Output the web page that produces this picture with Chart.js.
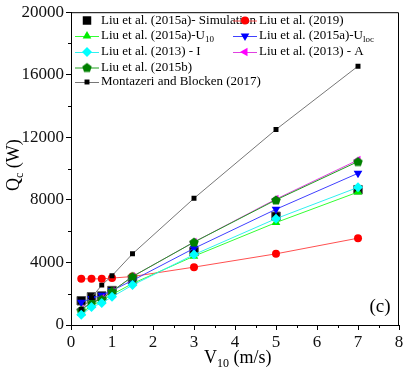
<!DOCTYPE html>
<html>
<head>
<meta charset="utf-8">
<script src="https://cdn.jsdelivr.net/npm/chart.js@4"></script>
<style>
  html, body { margin: 0; padding: 0; background: #fff; }
  #wrap { width: 406px; height: 376px; }
</style>
</head>
<body>
<div id="wrap"><canvas id="qcChart" width="406" height="376"></canvas></div>
<script>
// wind speed V10 (m/s)
const windSpeed = [0.25, 0.5, 0.75, 1, 1.5, 3, 5, 7];

// convective heat Qc (W) for each correlation
const simulation = [1550, 1800, 1850, 2200, 2900, 4700, 6950, 8650];
const liu2019 = [2950, 2950, 2950, 3000, 3100, 3700, 4550, 5550];
const liu2015aU10 = [750, 1250, 1550, 1950, 2650, 4400, 6550, 8500];
const liu2015aUloc = [1450, 1700, 1900, 2200, 2850, 4900, 7400, 9700];
const liu2013I = [650, 1150, 1400, 1800, 2550, 4500, 6800, 8800];
const liu2013A = [1000, 1450, 1700, 2150, 3100, 5300, 8050, 10550];
const liu2015b = [950, 1450, 1650, 2150, 3100, 5300, 8000, 10450];
const montazeri = [1000, 1750, 2550, 3150, 4550, 8100, 12500, 16550];

const xTicks = [0, 1, 2, 3, 4, 5, 6, 7, 8];
const yTicks = [0, 4000, 8000, 12000, 16000, 20000];

const serif = "'Liberation Serif', 'DejaVu Serif', serif";

// pentagon marker for Liu et al. (2015b)
function makePentagon(color, r) {
    const c = document.createElement('canvas');
    c.width = c.height = r * 2 + 2;
    const g = c.getContext('2d');
    g.fillStyle = color;
    g.beginPath();
    for (let i = 0; i < 5; i++) {
        const a = -Math.PI / 2 + i * 2 * Math.PI / 5;
        const px = r + 1 + r * Math.cos(a);
        const py = r + 1.5 + r * Math.sin(a);
        if (i === 0) g.moveTo(px, py); else g.lineTo(px, py);
    }
    g.closePath();
    g.fill();
    return c;
}
const pentagon = makePentagon('#008000', 5);

function pts(ys) {
    return windSpeed.map((x, i) => ({ x: x, y: ys[i] }));
}

const series = [
    { label: 'Liu et al. (2015a)- Simulation', data: simulation, color: '#000000', line: null, style: 'rect', radius: 6, rot: 0, order: 9 },
    { label: 'Liu et al. (2019)', data: liu2019, color: '#ff0000', line: '#ff5050', style: 'circle', radius: 4, rot: 0, order: 8 },
    { label: 'Liu et al. (2015a)-U', sub: '10', data: liu2015aU10, color: '#00ee00', line: '#33ff33', style: 'triangle', radius: 5, rot: 0, order: 7 },
    { label: 'Liu et al. (2015a)-U', sub: 'loc', data: liu2015aUloc, color: '#0000ff', line: '#4040ff', style: 'triangle', radius: 5, rot: 180, order: 6 },
    { label: 'Liu et al. (2013) - I', data: liu2013I, color: '#00ffff', line: '#30f0f0', style: 'rectRot', radius: 5, rot: 0, order: 2 },
    { label: 'Liu et al. (2013) - A', data: liu2013A, color: '#ff00ff', line: '#e040e0', style: 'triangle', radius: 5, rot: -90, order: 5 },
    { label: 'Liu et al. (2015b)', data: liu2015b, color: '#008000', line: '#20a020', style: pentagon, radius: 5, rot: 0, order: 4 },
    { label: 'Montazeri and Blocken (2017)', data: montazeri, color: '#000000', line: '#777777', style: 'rect', radius: 3.5, rot: 0, order: 3 }
];

const datasets = series.map(s => ({
    label: s.label,
    data: pts(s.data),
    showLine: s.line !== null,
    borderColor: s.line || s.color,
    borderWidth: 1,
    backgroundColor: s.color,
    pointBackgroundColor: s.color,
    pointBorderColor: s.color === '#000000' && s.radius > 5 ? '#555555' : s.color,
    pointBorderWidth: s.radius > 5 ? 1 : 0,
    pointStyle: s.style,
    pointRadius: s.radius,
    pointRotation: s.rot,
    order: s.order
}));

// legend, axis titles, minor ticks, frame
const decorations = {
    id: 'decorations',
    afterDraw(chart) {
        const ctx = chart.ctx;
        const a = chart.chartArea;
        const xs = chart.scales.x;
        const ys = chart.scales.y;
        ctx.save();

        // frame top and right
        ctx.strokeStyle = '#000';
        ctx.lineWidth = 1;
        ctx.beginPath();
        ctx.moveTo(a.left, a.top + 0.5);
        ctx.lineTo(a.right - 0.5, a.top + 0.5);
        ctx.lineTo(a.right - 0.5, a.bottom);
        ctx.stroke();

        // minor ticks
        ctx.beginPath();
        for (let v = 0.5; v < 8; v += 1) {
            const px = Math.round(xs.getPixelForValue(v)) + 0.5;
            ctx.moveTo(px, a.bottom);
            ctx.lineTo(px, a.bottom + 3);
        }
        for (let v = 2000; v < 20000; v += 4000) {
            const py = Math.round(ys.getPixelForValue(v)) + 0.5;
            ctx.moveTo(a.left, py);
            ctx.lineTo(a.left - 3, py);
        }
        ctx.stroke();

        // legend
        const cols = [87, 245];
        const rows = [20.5, 36, 52, 67.5, 82];
        ctx.textBaseline = 'middle';
        series.forEach((s, i) => {
            let cx, cy;
            if (i < 6) { cx = cols[i % 2]; cy = rows[Math.floor(i / 2)]; }
            else { cx = cols[0]; cy = rows[i - 3]; }
            if (s.line) {
                ctx.strokeStyle = s.line;
                ctx.beginPath();
                ctx.moveTo(cx - 12, cy + 0.5);
                ctx.lineTo(cx + 12, cy + 0.5);
                ctx.stroke();
            }
            ctx.fillStyle = s.color;
            ctx.strokeStyle = s.color;
            Chart.helpers.drawPoint(ctx, {
                pointStyle: s.style, rotation: s.rot,
                radius: s.radius, borderWidth: 0
            }, cx, cy);
            ctx.fillStyle = '#000';
            ctx.font = '13px ' + serif;
            const tx = cx + 14;
            ctx.fillText(s.label, tx, cy);
            if (s.sub) {
                const w = ctx.measureText(s.label).width;
                ctx.font = '9px ' + serif;
                ctx.fillText(s.sub, tx + w, cy + 4);
            }
        });

        // panel label
        ctx.font = '19px ' + serif;
        ctx.textAlign = 'center';
        ctx.fillText('(c)', 380, 307);

        // x axis title
        ctx.textAlign = 'left';
        ctx.textBaseline = 'alphabetic';
        ctx.font = '18px ' + serif;
        let x0 = 204;
        ctx.fillText('V', x0, 363);
        x0 += ctx.measureText('V').width;
        ctx.font = '12px ' + serif;
        ctx.fillText('10', x0, 367);
        x0 += ctx.measureText('10').width;
        ctx.font = '18px ' + serif;
        ctx.fillText(' (m/s)', x0, 363);

        // y axis title
        ctx.translate(19, 165);
        ctx.rotate(-Math.PI / 2);
        ctx.font = '18px ' + serif;
        let y0 = -26;
        ctx.fillText('Q', y0, 0);
        y0 += ctx.measureText('Q').width;
        ctx.font = '12px ' + serif;
        ctx.fillText('c', y0, 4);
        y0 += ctx.measureText('c').width;
        ctx.font = '18px ' + serif;
        ctx.fillText(' (W)', y0, 0);

        ctx.restore();
    }
};

new Chart(document.getElementById('qcChart').getContext('2d'), {
    type: 'scatter',
    data: { datasets: datasets },
    options: {
        responsive: false,
        animation: false,
        layout: { padding: { left: 0, right: 7, top: 10, bottom: 0 } },
        plugins: { legend: { display: false }, tooltip: { enabled: false } },
        scales: {
            x: {
                min: 0, max: 8,
                afterFit: s => { s.height = 51; },
                afterBuildTicks: s => { s.ticks = xTicks.map(v => ({ value: v })); },
                grid: { drawOnChartArea: false, color: '#000', tickLength: 5 },
                border: { color: '#000', width: 1 },
                ticks: { color: '#111', font: { family: serif, size: 17 }, padding: 2, callback: v => String(v) }
            },
            y: {
                min: 0, max: 20000,
                afterFit: s => { s.width = 71; },
                afterBuildTicks: s => { s.ticks = yTicks.map(v => ({ value: v })); },
                grid: { drawOnChartArea: false, color: '#000', tickLength: 5 },
                border: { color: '#000', width: 1 },
                ticks: { color: '#111', font: { family: serif, size: 17 }, padding: 2, callback: v => String(v) }
            }
        }
    },
    plugins: [decorations]
});
</script>
</body>
</html>
